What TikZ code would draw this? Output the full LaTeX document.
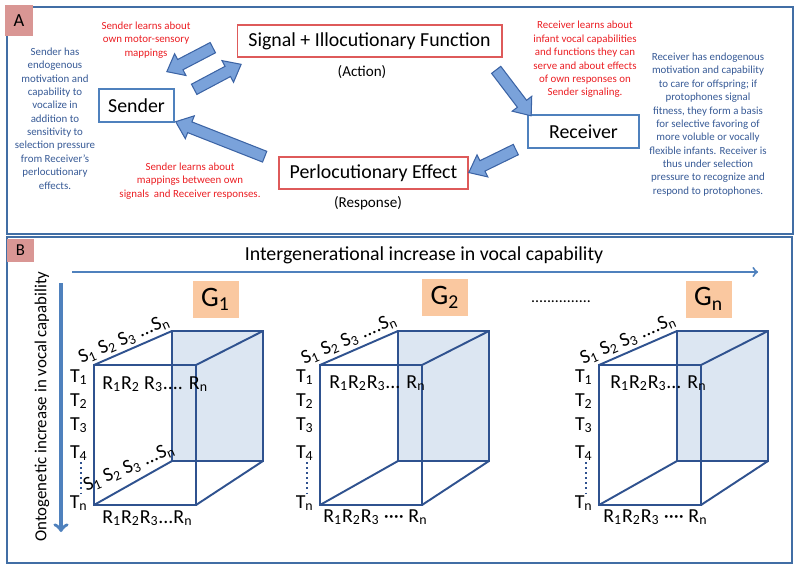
\documentclass[tikz,border=0pt]{standalone}
\usepackage{fontspec}
\setmainfont{Carlito}
\usepackage{xcolor}
\usepackage{tikz}
\usetikzlibrary{
    arrows,
    calc,
    shapes.arrows
}
\definecolor{frameblue}{RGB}{65,110,165}
\definecolor{tagpink}{RGB}{217,150,148}
\definecolor{boxblue}{RGB}{79,129,189}
\definecolor{boxred}{RGB}{222,90,90}
\definecolor{notered}{RGB}{235,30,35}
\definecolor{noteblue}{RGB}{55,90,150}
\definecolor{arrowfill}{RGB}{122,162,218}
\definecolor{arrowedge}{RGB}{60,100,165}
\definecolor{cubeblue}{RGB}{47,82,143}
\definecolor{backblue}{RGB}{220,230,242}
\definecolor{genorange}{RGB}{250,200,160}

\newcommand{\sbs}[1]{\textsubscript{#1}}
% fat arrow from one point to another
\newcommand{\fatarrow}[3]{%
  \path let \p1=(#2), \p2=(#3),
    \n1={atan2(\y2-\y1,\x2-\x1)}, \n2={veclen(\x2-\x1,\y2-\y1)} in
    node[blockarrow, rotate=\n1, minimum height=\n2] (#1) at ($(\p1)!0.5!(\p2)$) {};}

\begin{document}
\begin{tikzpicture}[x=0.02cm, y=-0.02cm,
    panel/.style={draw=frameblue, line width=1.1pt},
    tag/.style={fill=tagpink, inner sep=0pt},
    bluebox/.style={draw=boxblue, line width=1.3pt, inner sep=0pt, font=\fontsize{11.3}{13}\selectfont},
    redbox/.style={draw=boxred, line width=0.6pt, inner sep=0pt, font=\fontsize{11.3}{13}\selectfont},
    small/.style={inner sep=0pt, font=\fontsize{8.6}{10}\selectfont},
    note/.style={align=center, inner sep=0pt, font=\fontsize{6.2}{7.6}\selectfont},
    blockarrow/.style={single arrow, draw=arrowedge, fill=arrowfill, line width=0.6pt,
        inner xsep=0pt, inner ysep=0.105cm, single arrow head extend=0.13cm,
        single arrow tip angle=78},
    axis/.style={draw=boxblue, line width=1.1pt},
    cube/.style={draw=cubeblue, line width=1.1pt},
    slab/.style={inner sep=0pt, font=\fontsize{11.3}{13}\selectfont}]
    \useasboundingbox (0,0) rectangle (800,571);
    % panel A
    \draw[panel] (7,7) rectangle (793,234);
    \node[tag, minimum width=0.56cm, minimum height=0.62cm, font=\fontsize{10.5}{12}\selectfont] (tagA) at (19,20.5) {A};
    \node[bluebox, minimum width=1.5cm, minimum height=0.66cm] (sender) at (136.5,105.5) {Sender};
    \node[redbox, minimum width=5.3cm, minimum height=0.64cm] (signal) at (369.5,41) {Signal + Illocutionary Function};
    \node[redbox, minimum width=3.78cm, minimum height=0.64cm] (perloc) at (373.5,173) {Perlocutionary Effect};
    \node[bluebox, minimum width=2.22cm, minimum height=0.66cm] (receiver) at (583.5,131.5) {Receiver};
    \node[small] (action) at (362,72) {(Action)};
    \node[small] (response) at (368,203) {(Response)};
    \node[note, noteblue] (sendnote) at (55,118.5) {Sender has\\endogenous\\motivation and\\capability to\\vocalize in\\addition to\\sensitivity to\\selection pressure\\from Receiver’s\\perlocutionary\\effects.};
    \node[note, notered] (sendlearn) at (146,40) {Sender learns about\\own motor-sensory\\mappings};
    \node[note, notered] (maplearn) at (190,181) {Sender learns about\\mappings between own\\signals\ \ and Receiver responses.};
    \node[note, notered] (reclearn) at (585,59.5) {Receiver learns about\\infant vocal capabilities\\and functions they can\\serve and about effects\\of own responses on\\Sender signaling.};
    \node[note, noteblue] (recnote) at (708,124.5) {Receiver has endogenous\\motivation and capability\\to care for offspring; if\\protophones signal\\fitness, they form a basis\\for selective favoring of\\more voluble or vocally\\flexible infants. Receiver is\\thus under selection\\pressure to recognize and\\respond to protophones.};
    \coordinate (fb1) at (216,46);
    \coordinate (fb2) at (170,70);
    \coordinate (ff1) at (191,91);
    \coordinate (ff2) at (238,66);
    \coordinate (sr1) at (494,67);
    \coordinate (sr2) at (529,113);
    \coordinate (rp1) at (519,148);
    \coordinate (rp2) at (472,171);
    \coordinate (ps1) at (268,158);
    \coordinate (ps2) at (179,123);
    \fatarrow{back}{fb1}{fb2}
    \fatarrow{forth}{ff1}{ff2}
    \fatarrow{toreceiver}{sr1}{sr2}
    \fatarrow{toeffect}{rp1}{rp2}
    \fatarrow{tosender}{ps1}{ps2}
    % panel B
    \draw[panel] (7,237) rectangle (792,563);
    \node[tag, minimum width=0.54cm, minimum height=0.46cm, font=\fontsize{9.5}{11}\selectfont] (tagB) at (20.5,250.5) {B};
    \node[inner sep=0pt, font=\fontsize{11.3}{13}\selectfont] (inter) at (424,255) {Intergenerational increase in vocal capability};
    \node[inner sep=0pt, rotate=90, font=\fontsize{9.6}{11}\selectfont] (onto) at (42,406.5) {Ontogenetic increase in vocal capability};
    \coordinate (hstart) at (72,272);
    \coordinate (hend) at (758,272);
    \coordinate (vstart) at (61,283);
    \coordinate (vend) at (61,532);
    \draw[axis, ->] (hstart) -- (hend);
    \draw[axis, line width=2pt, ->] (vstart) -- (vend);
    \foreach \fx in {94,320,599} {
        \fill[backblue] (\fx+78,331) rectangle (\fx+169,461);
        \draw[cube] (\fx+78,331) rectangle (\fx+169,461);
        \draw[cube] (\fx,365) rectangle (\fx+102,505);
        \draw[cube] (\fx,365) -- (\fx+78,331);
        \draw[cube] (\fx+102,365) -- (\fx+169,331);
        \draw[cube] (\fx,505) -- (\fx+78,461);
        \draw[cube] (\fx+102,505) -- (\fx+169,461);
        \node[slab, anchor=base east] (t1-\fx) at (\fx-6,382) {T\sbs{1}};
        \node[slab, anchor=base east] (t2-\fx) at (\fx-6,406) {T\sbs{2}};
        \node[slab, anchor=base east] (t3-\fx) at (\fx-6,430) {T\sbs{3}};
        \node[slab, anchor=base east] (t4-\fx) at (\fx-6,458) {T\sbs{4}};
        \node[slab, anchor=base east] (tn-\fx) at (\fx-6,508) {T\sbs{n}};
        \draw[cubeblue, dotted, line width=0.9pt] (\fx-13,462) -- (\fx-13,496);
    }
    % generation labels
    \node[fill=genorange, minimum width=0.92cm, minimum height=0.74cm, font=\fontsize{16}{18}\selectfont] (g1) at (215.5,299.5) {G\sbs{1}};
    \node[fill=genorange, minimum width=0.92cm, minimum height=0.74cm, font=\fontsize{16}{18}\selectfont] (g2) at (445,297.5) {G\sbs{2}};
    \node[fill=genorange, minimum width=0.92cm, minimum height=0.74cm, font=\fontsize{16}{18}\selectfont] (gn) at (708.5,299) {G\sbs{n}};
    \node[inner sep=0pt, font=\fontsize{9}{11}\selectfont] (gdots) at (561,302) {...............};
    % cube labels
    \node[slab, rotate=23.5, anchor=base] (stop1) at (126,344) {S\sbs{1} S\sbs{2} S\sbs{3} ...S\sbs{n}};
    \node[slab, rotate=23.5, anchor=base] (sbot1) at (131,472) {S\sbs{1} S\sbs{2} S\sbs{3} ...S\sbs{n}};
    \node[slab, anchor=base west] (rtop1) at (102,389) {R\sbs{1}R\sbs{2} R\sbs{3}.... R\sbs{n}};
    \node[slab, anchor=base west] (rbot1) at (102,523) {R\sbs{1}R\sbs{2}R\sbs{3}...R\sbs{n}};
    \node[slab, rotate=23.5, anchor=base] (stop2) at (351,344) {S\sbs{1} S\sbs{2} S\sbs{3} ....S\sbs{n}};
    \node[slab, anchor=base west] (rtop2) at (329,388) {R\sbs{1}R\sbs{2}R\sbs{3}... R\sbs{n}};
    \node[slab, anchor=base west] (rbot2) at (323,522) {R\sbs{1}R\sbs{2}R\sbs{3} ···· R\sbs{n}};
    \node[slab, rotate=23.5, anchor=base] (stopn) at (630,344) {S\sbs{1} S\sbs{2} S\sbs{3} ....S\sbs{n}};
    \node[slab, anchor=base west] (rtopn) at (610,388) {R\sbs{1}R\sbs{2}R\sbs{3}... R\sbs{n}};
    \node[slab, anchor=base west] (rbotn) at (603,522) {R\sbs{1}R\sbs{2}R\sbs{3} ···· R\sbs{n}};
\end{tikzpicture}
\end{document}
